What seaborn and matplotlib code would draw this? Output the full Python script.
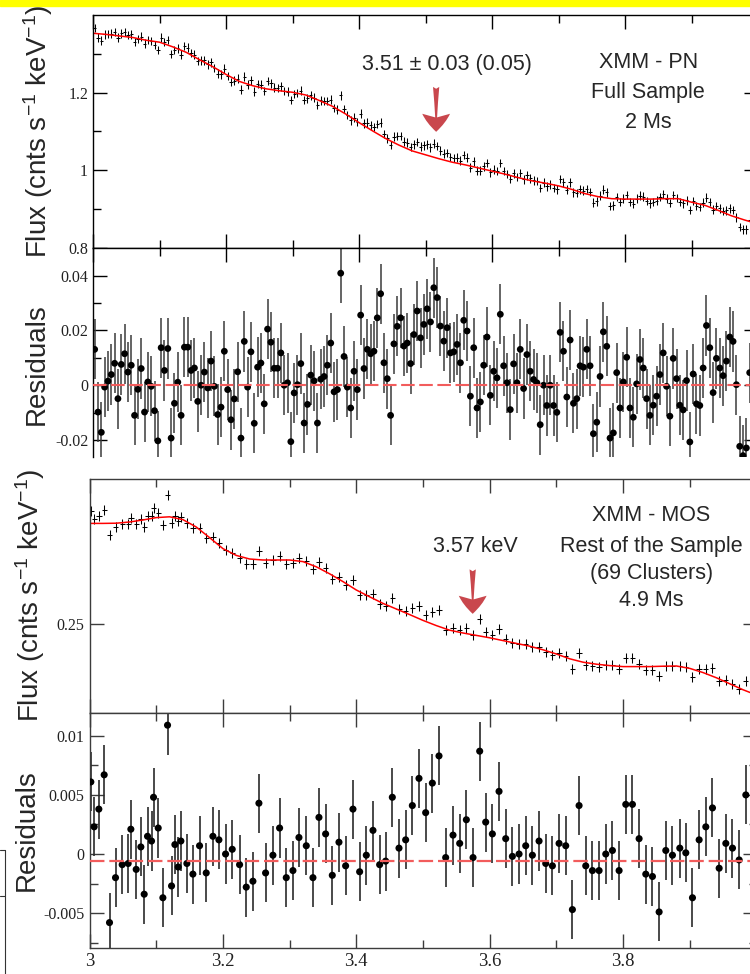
import numpy as np
import matplotlib
matplotlib.use("Agg")
import matplotlib.pyplot as plt
import seaborn as sns
from matplotlib.ticker import FixedLocator, FormatStrFormatter
from matplotlib.patches import Rectangle
from matplotlib.lines import Line2D

# ---------------- XMM-PN, full sample (upper pair of panels) ----------------
pn_e0 = 3.0025      # centre of first bin, keV
pn_de = 0.005       # bin width, keV
pn_err = 0.011      # 1-sigma error on flux / residual

pn_resid = [
    0.0131, -0.0098, -0.0172, -0.0007, 0.0015, 0.0039, 0.0080, -0.0049, 0.0076, 0.0115,
    0.0048, 0.0073, -0.0110, -0.0015, 0.0061, -0.0098, 0.0012, -0.0004, -0.0093, -0.0203,
    0.0137, 0.0054, 0.0134, -0.0193, -0.0066, 0.0011, -0.0110, 0.0139, 0.0139, 0.0054,
    0.0063, -0.0059, 0.0000, 0.0048, -0.0010, 0.0088, -0.0004, -0.0107, -0.0080, 0.0124,
    -0.0016, -0.0126, -0.0050, 0.0049, -0.0193, 0.0160, -0.0007, 0.0122, -0.0139, 0.0066,
    0.0081, -0.0068, 0.0205, 0.0157, 0.0062, 0.0062, 0.0118, 0.0000, 0.0009, -0.0206,
    -0.0028, 0.0002, 0.0079, -0.0138, -0.0070, 0.0037, 0.0016, -0.0138, 0.0022, 0.0032,
    0.0073, 0.0154, -0.0024, -0.0016, 0.0409, 0.0105, -0.0007, -0.0083, 0.0051, -0.0016,
    0.0256, 0.0061, 0.0131, 0.0115, 0.0124, 0.0246, 0.0334, 0.0082, 0.0024, -0.0110,
    0.0151, 0.0215, 0.0246, 0.0143, 0.0154, 0.0079, 0.0185, 0.0271, 0.0173, 0.0222,
    0.0279, 0.0231, 0.0356, 0.0320, 0.0216, 0.0161, 0.0210, 0.0118, 0.0122, 0.0149,
    0.0082, 0.0237, 0.0198, -0.0040, 0.0137, -0.0083, -0.0061, 0.0073, 0.0176, -0.0037,
    0.0051, 0.0027, 0.0259, 0.0071, 0.0009, -0.0089, 0.0078, 0.0009, 0.0131, -0.0012,
    0.0112, 0.0051, 0.0021, 0.0009, -0.0144, 0.0000, -0.0074, 0.0000, -0.0074, -0.0099,
    0.0193, 0.0124, -0.0043, 0.0165, -0.0066, -0.0049, 0.0071, 0.0066, 0.0131, 0.0071,
    -0.0177, -0.0135, 0.0032, 0.0195, 0.0142, -0.0193, -0.0174, 0.0046, -0.0083, 0.0012,
    0.0102, -0.0083, -0.0117, 0.0005, 0.0094, 0.0063, -0.0049, -0.0110, -0.0073, -0.0040,
    0.0039, 0.0118, -0.0004, -0.0113, 0.0098, 0.0024, -0.0073, -0.0090, 0.0017, -0.0207,
    0.0041, -0.0068, -0.0074, 0.0063, 0.0218, 0.0137, -0.0027, 0.0098, 0.0063, 0.0035,
    0.0088, 0.0176, 0.0160, 0.0002, -0.0223, -0.0257, -0.0229, 0.0046,
]

pn_flux = [
    1.366, 1.342, 1.334, 1.350, 1.351, 1.352, 1.356, 1.342, 1.353, 1.356,
    1.348, 1.350, 1.330, 1.338, 1.344, 1.326, 1.336, 1.333, 1.323, 1.310,
    1.342, 1.331, 1.336, 1.300, 1.310, 1.314, 1.298, 1.320, 1.316, 1.302,
    1.298, 1.282, 1.283, 1.283, 1.273, 1.278, 1.264, 1.249, 1.247, 1.262,
    1.243, 1.228, 1.231, 1.236, 1.208, 1.241, 1.221, 1.232, 1.203, 1.222,
    1.221, 1.204, 1.230, 1.224, 1.213, 1.212, 1.216, 1.204, 1.203, 1.181,
    1.197, 1.199, 1.205, 1.181, 1.185, 1.193, 1.187, 1.168, 1.180, 1.178,
    1.178, 1.182, 1.160, 1.156, 1.193, 1.158, 1.142, 1.129, 1.136, 1.124,
    1.146, 1.121, 1.123, 1.116, 1.112, 1.119, 1.123, 1.093, 1.082, 1.065,
    1.087, 1.089, 1.088, 1.074, 1.071, 1.060, 1.067, 1.073, 1.061, 1.064,
    1.067, 1.059, 1.069, 1.063, 1.051, 1.043, 1.045, 1.034, 1.032, 1.033,
    1.025, 1.039, 1.033, 1.007, 1.023, 0.999, 0.999, 1.010, 1.019, 0.995,
    1.002, 0.998, 1.019, 0.998, 0.990, 0.978, 0.992, 0.983, 0.993, 0.977,
    0.987, 0.979, 0.974, 0.972, 0.955, 0.968, 0.959, 0.964, 0.955, 0.951,
    0.978, 0.969, 0.950, 0.969, 0.943, 0.942, 0.951, 0.948, 0.952, 0.944,
    0.917, 0.920, 0.935, 0.950, 0.943, 0.908, 0.910, 0.931, 0.918, 0.927,
    0.936, 0.918, 0.914, 0.927, 0.935, 0.932, 0.921, 0.915, 0.919, 0.922,
    0.931, 0.939, 0.927, 0.916, 0.937, 0.929, 0.919, 0.915, 0.923, 0.898,
    0.921, 0.908, 0.906, 0.917, 0.930, 0.919, 0.899, 0.908, 0.902, 0.895,
    0.897, 0.902, 0.898, 0.879, 0.854, 0.848, 0.848, 0.873,
]

# model curves sampled every 0.02 keV
model_e = [3.00, 3.02, 3.04, 3.06, 3.08, 3.10, 3.12, 3.14, 3.16, 3.18,
           3.20, 3.22, 3.24, 3.26, 3.28, 3.30, 3.32, 3.34, 3.36, 3.38,
           3.40, 3.42, 3.44, 3.46, 3.48, 3.50, 3.52, 3.54, 3.56, 3.58,
           3.60, 3.62, 3.64, 3.66, 3.68, 3.70, 3.72, 3.74, 3.76, 3.78,
           3.80, 3.82, 3.84, 3.86, 3.88, 3.90, 3.92, 3.94, 3.96, 3.98, 4.00]
pn_model = [1.353, 1.350, 1.346, 1.342, 1.335, 1.330, 1.318, 1.304, 1.285, 1.267,
            1.247, 1.229, 1.218, 1.210, 1.205, 1.201, 1.194, 1.180, 1.165, 1.145,
            1.123, 1.102, 1.082, 1.065, 1.050, 1.040, 1.030, 1.021, 1.014, 1.006,
            0.998, 0.990, 0.981, 0.973, 0.967, 0.960, 0.951, 0.940, 0.932, 0.927,
            0.926, 0.926, 0.926, 0.927, 0.927, 0.918, 0.910, 0.897, 0.883, 0.872, 0.862]

# ---------------- XMM-MOS, rest of the sample (lower pair) ----------------
mos_err = 0.0025
mos_zero = -0.0006   # where the dashed reference line sits
mos_e = [3.002, 3.007, 3.014, 3.022, 3.030, 3.039, 3.049, 3.058, 3.062, 3.070,
         3.077, 3.082, 3.087, 3.093, 3.096, 3.103, 3.110, 3.117, 3.123, 3.128,
         3.133, 3.137, 3.146, 3.155, 3.165, 3.175, 3.185, 3.194, 3.204, 3.214,
         3.225, 3.235, 3.245, 3.254, 3.264, 3.275, 3.285, 3.295, 3.305, 3.314,
         3.325, 3.335, 3.344, 3.354, 3.364, 3.374, 3.384, 3.395, 3.405, 3.415,
         3.425, 3.435, 3.444, 3.454, 3.464, 3.474, 3.484, 3.494, 3.504, 3.514,
         3.524, 3.534, 3.545, 3.555, 3.565, 3.575, 3.585, 3.594, 3.604, 3.614,
         3.624, 3.634, 3.644, 3.654, 3.664, 3.674, 3.684, 3.694, 3.704, 3.714,
         3.724, 3.734, 3.744, 3.754, 3.764, 3.774, 3.784, 3.794, 3.804, 3.814,
         3.824, 3.834, 3.844, 3.854, 3.864, 3.874, 3.885, 3.894, 3.904, 3.914,
         3.924, 3.934, 3.944, 3.954, 3.964, 3.974, 3.984]
mos_resid = [0.0061, 0.0023, 0.0038, 0.0067, -0.0058, -0.0020, -0.0009, -0.0008, 0.0021, -0.0013,
             0.0006, -0.0034, 0.0015, 0.0011, 0.0048, 0.0022, -0.0037, 0.0109, -0.0027, 0.0008,
             -0.0011, 0.0011, -0.0008, -0.0017, 0.0007, -0.0016, 0.0015, 0.0012, 0.0000, 0.0004,
             -0.0009, -0.0028, -0.0023, 0.0043, -0.0016, -0.0001, 0.0022, -0.0020, -0.0014, 0.0014,
             0.0007, -0.0020, 0.0031, 0.0017, -0.0018, 0.0010, -0.0010, 0.0038, -0.0015, -0.0001,
             0.0020, -0.0009, -0.0006, 0.0048, 0.0005, 0.0012, 0.0041, 0.0064, 0.0035, 0.0060,
             0.0083, -0.0003, 0.0016, 0.0009, 0.0029, -0.0003, 0.0087, 0.0027, 0.0017, 0.0053,
             0.0013, -0.0002, 0.0000, 0.0007, -0.0001, 0.0011, -0.0008, -0.0010, 0.0009, 0.0007,
             -0.0047, 0.0041, -0.0010, -0.0014, -0.0014, 0.0000, 0.0003, -0.0014, 0.0042, 0.0042,
             0.0013, -0.0017, -0.0019, -0.0049, 0.0003, -0.0001, 0.0005, 0.0001, -0.0037, 0.0012,
             0.0023, 0.0039, -0.0012, 0.0009, 0.0005, -0.0005, 0.0050]
mos_flux = [0.3064, 0.3026, 0.3041, 0.3070, 0.2945, 0.2984, 0.2998, 0.3001, 0.3032, 0.3002,
            0.3024, 0.2987, 0.3039, 0.3038, 0.3078, 0.3054, 0.2997, 0.3144, 0.3007, 0.3039,
            0.3016, 0.3035, 0.3004, 0.2978, 0.2979, 0.2929, 0.2933, 0.2905, 0.2870, 0.2857,
            0.2830, 0.2802, 0.2801, 0.2865, 0.2804, 0.2819, 0.2842, 0.2800, 0.2804, 0.2828,
            0.2813, 0.2773, 0.2809, 0.2778, 0.2725, 0.2733, 0.2693, 0.2720, 0.2647, 0.2644,
            0.2648, 0.2602, 0.2591, 0.2631, 0.2574, 0.2567, 0.2582, 0.2590, 0.2547, 0.2559,
            0.2570, 0.2472, 0.2482, 0.2468, 0.2481, 0.2443, 0.2527, 0.2462, 0.2445, 0.2474,
            0.2427, 0.2405, 0.2400, 0.2400, 0.2384, 0.2387, 0.2359, 0.2346, 0.2354, 0.2340,
            0.2276, 0.2355, 0.2297, 0.2288, 0.2284, 0.2294, 0.2294, 0.2274, 0.2329, 0.2329,
            0.2300, 0.2270, 0.2268, 0.2239, 0.2292, 0.2289, 0.2292, 0.2283, 0.2237, 0.2275,
            0.2275, 0.2278, 0.2213, 0.2219, 0.2200, 0.2175, 0.2215]
mos_model = [0.3003, 0.3003, 0.3004, 0.3010, 0.3020, 0.3032, 0.3036, 0.3022, 0.2985, 0.2932,
             0.2877, 0.2843, 0.2825, 0.2820, 0.2820, 0.2820, 0.2812, 0.2786, 0.2751, 0.2712,
             0.2670, 0.2636, 0.2603, 0.2575, 0.2547, 0.2518, 0.2492, 0.2469, 0.2455, 0.2443,
             0.2431, 0.2417, 0.2403, 0.2389, 0.2371, 0.2350, 0.2326, 0.2309, 0.2299, 0.2292,
             0.2287, 0.2287, 0.2287, 0.2289, 0.2290, 0.2278, 0.2257, 0.2231, 0.2201, 0.2171, 0.2145]

# the 4 keV tick sits just past the right edge of the crop, so it is left out
x_major = [3.0, 3.2, 3.4, 3.6, 3.8]
x_minor = [3.1, 3.3, 3.5, 3.7, 3.9]

sns.set_theme(style="ticks")
plt.rcParams["font.family"] = ["Liberation Sans", "DejaVu Sans"]
plt.rcParams["mathtext.fontset"] = "custom"
plt.rcParams["mathtext.rm"] = "Liberation Sans"
plt.rcParams["mathtext.it"] = "Liberation Sans:italic"

W, H = 750, 974
fig = plt.figure(figsize=(W / 100, H / 100), dpi=100)


def box(left, top, right, bottom):
    return [left / W, 1 - bottom / H, (right - left) / W, (bottom - top) / H]


ax1 = fig.add_axes(box(93, 15, 758, 248))
ax2 = fig.add_axes(box(93, 248, 758, 457))
ax3 = fig.add_axes(box(89.5, 479, 756.5, 713))
ax4 = fig.add_axes(box(89.5, 713, 756.5, 948))


def style(ax, ymaj, ymin, ylim, spine_col="black"):
    ax.set_xlim(3.0, 4.0)
    ax.set_ylim(*ylim)
    ax.xaxis.set_major_locator(FixedLocator(x_major))
    ax.xaxis.set_minor_locator(FixedLocator(x_minor))
    ax.yaxis.set_major_locator(FixedLocator(ymaj))
    ax.yaxis.set_minor_locator(FixedLocator(ymin))
    ax.xaxis.set_major_formatter(FormatStrFormatter("%g"))
    ax.yaxis.set_major_formatter(FormatStrFormatter("%g"))
    ax.tick_params(which="both", direction="in", top=True, right=True,
                   color=spine_col, width=1.0)
    ax.tick_params(which="major", length=10, pad=3.5)
    ax.tick_params(which="minor", length=5.5)
    ax.tick_params(axis="y", labelsize=11.5, labelcolor="#222222")
    ax.tick_params(axis="x", labelsize=13.5, labelcolor="#222222")
    for lab in ax.get_xticklabels() + ax.get_yticklabels():
        lab.set_family("Liberation Serif")
    for sp in ax.spines.values():
        sp.set_color(spine_col)
        sp.set_linewidth(1.0)
    ax.set_xlabel("")
    ax.set_ylabel("")
    ax.grid(False)


pn_x = pn_e0 + pn_de * np.arange(len(pn_resid))
arrow = "fancy,head_length=1.3,head_width=2.0,tail_width=0.45"

# panel 1 : PN spectrum + model
ax1.errorbar(pn_x, pn_flux, yerr=pn_err, xerr=pn_de / 2, fmt="none",
             ecolor="black", elinewidth=0.75, capsize=0)
sns.lineplot(x=model_e, y=pn_model, ax=ax1, color="#ff0000", lw=1.1, legend=False)
style(ax1, [0.8, 1.0, 1.2], [0.9, 1.1, 1.3], (0.8, 1.4))
ax1.tick_params(labelbottom=False)

ax1.text(3.532, 1.272, "3.51 \u00b1 0.03 (0.05)", ha="center", va="center", fontsize=15.5)
for txt, yy in zip(["XMM - PN", "Full Sample", "2 Ms"], [1.277, 1.200, 1.123]):
    ax1.text(3.835, yy, txt, ha="center", va="center", fontsize=15.5)
ax1.annotate("", xy=(3.516, 1.092), xytext=(3.516, 1.222),
             arrowprops=dict(arrowstyle=arrow, color="#c9474d", lw=0, mutation_scale=10))

# panel 2 : PN residuals
ax2.errorbar(pn_x, pn_resid, yerr=pn_err, fmt="none", ecolor="#3a3a3a",
             elinewidth=1.1, capsize=0)
sns.scatterplot(x=pn_x, y=pn_resid, ax=ax2, color="black", s=24,
                edgecolor="none", zorder=3, legend=False)
ax2.axhline(0.0, color="#f25c5c", lw=1.5, dashes=(6.5, 2.2), zorder=4)
style(ax2, [-0.02, 0.0, 0.02, 0.04], [-0.01, 0.01, 0.03], (-0.0262, 0.0501))
ax2.spines["bottom"].set_visible(False)
ax2.tick_params(which="both", bottom=False, labelbottom=False)

# panel 3 : MOS spectrum + model
ax3.errorbar(mos_e, mos_flux, yerr=mos_err, xerr=0.004, fmt="none",
             ecolor="black", elinewidth=0.75, capsize=0)
sns.lineplot(x=model_e, y=mos_model, ax=ax3, color="#ff0000", lw=1.1, legend=False)
style(ax3, [0.25], [], (0.2055, 0.3225), spine_col="#3c3c3c")
ax3.tick_params(labelbottom=False)

ax3.text(3.579, 0.289, "3.57 keV", ha="center", va="center", fontsize=15.5)
for txt, yy in zip(["XMM - MOS", "Rest of the Sample", "(69 Clusters)", "4.9 Ms"],
                   [0.3045, 0.2890, 0.2755, 0.2620]):
    ax3.text(3.842, yy, txt, ha="center", va="center", fontsize=15.5)
ax3.annotate("", xy=(3.5745, 0.2537), xytext=(3.5745, 0.2787),
             arrowprops=dict(arrowstyle=arrow, color="#c9474d", lw=0, mutation_scale=10))

# panel 4 : MOS residuals
ax4.errorbar(mos_e, mos_resid, yerr=mos_err, fmt="none", ecolor="#2a2a2a",
             elinewidth=1.2, capsize=0)
sns.scatterplot(x=mos_e, y=mos_resid, ax=ax4, color="black", s=26,
                edgecolor="none", zorder=3, legend=False)
ax4.axhline(mos_zero, color="#f25c5c", lw=1.6, dashes=(6.5, 2.2), zorder=4)
style(ax4, [-0.005, 0.0, 0.005, 0.01], [-0.0075, -0.0025, 0.0025, 0.0075],
      (-0.00795, 0.01193), spine_col="#3c3c3c")

# axis titles
ylab = r"Flux (cnts s$^{-1}$ keV$^{-1}$)"
fig.text(38 / W, 1 - 131 / H, ylab, rotation=90, ha="center", va="center", fontsize=20)
fig.text(37 / W, 1 - 364 / H, "Residuals", rotation=90, ha="center", va="center", fontsize=20)
fig.text(30 / W, 1 - 595 / H, ylab, rotation=90, ha="center", va="center", fontsize=20)
fig.text(27 / W, 1 - 830 / H, "Residuals", rotation=90, ha="center", va="center", fontsize=20)

# yellow strip along the top and the edge of a neighbouring frame at lower left
fig.patches.append(Rectangle((0, 1 - 6 / H), 1, 6 / H, transform=fig.transFigure,
                             color="#ffff00", zorder=0))
for xs, ys in [([5 / W, 5 / W], [1 - 850 / H, 0]),
               ([0, 5 / W], [1 - 850 / H, 1 - 850 / H]),
               ([0, 5 / W], [1 - 896 / H, 1 - 896 / H])]:
    fig.lines.append(Line2D(xs, ys, transform=fig.transFigure, color="#333333", lw=0.8))

fig.savefig("out.png", dpi=100)
